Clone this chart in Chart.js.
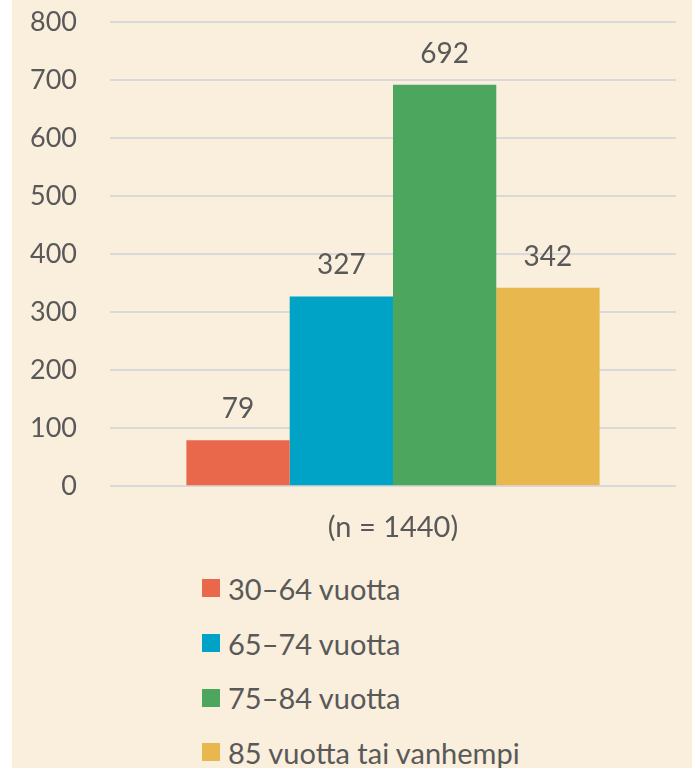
<!DOCTYPE html>
<html>
<head>
<meta charset="utf-8">
<script src="https://cdn.jsdelivr.net/npm/chart.js@4.4.1/dist/chart.umd.min.js"></script>
<style>
  body { margin: 0; background: #ffffff; width: 692px; height: 768px; overflow: hidden; }
  #panel { position: absolute; left: 12px; top: 0; width: 680px; height: 768px; background: #F9EFDC; }
  #wrap { position: absolute; left: 0; top: 0; width: 680px; height: 561px; }
  #legend { position: absolute; left: 190px; top: 561px; font-family: Lato, sans-serif; font-size: 29px; color: #595959; }
  .row { height: 54.7px; display: flex; align-items: center; }
  .box { width: 18px; height: 18px; margin-right: 8px; }
</style>
</head>
<body>
<div id="panel">
  <div id="wrap"><canvas id="bars"></canvas></div>
  <div id="legend"></div>
</div>
<script>
const categories = ['(n = 1440)'];
const seriesNames = ['30–64 vuotta', '65–74 vuotta', '75–84 vuotta', '85 vuotta tai vanhempi'];
const seriesValues = [79, 327, 692, 342];
const seriesColors = ['#E9674A', '#00A2C5', '#4CA65E', '#E8B84F'];
const yTicks = [0, 100, 200, 300, 400, 500, 600, 700, 800];

const textColor = '#595959';

const valueLabels = {
  id: 'valueLabels',
  afterDatasetsDraw(chart) {
    const c = chart.ctx;
    c.save();
    c.font = '28px Lato, sans-serif';
    c.fillStyle = textColor;
    c.textAlign = 'center';
    c.textBaseline = 'alphabetic';
    chart.data.datasets.forEach((ds, i) => {
      const meta = chart.getDatasetMeta(i);
      meta.data.forEach((bar, j) => {
        c.fillText(String(ds.data[j]), bar.x, bar.y - 22);
      });
    });
    c.restore();
  }
};

const ctx = document.getElementById('bars');
const bars = new Chart(ctx, {
  type: 'bar',
  data: {
    labels: categories,
    datasets: seriesNames.map((name, i) => ({
      label: name,
      data: [seriesValues[i]],
      backgroundColor: seriesColors[i],
      borderWidth: 0,
      barPercentage: 1,
      categoryPercentage: 0.73
    }))
  },
  options: {
    responsive: true,
    maintainAspectRatio: false,
    animation: false,
    layout: { padding: { left: 18, right: 16, top: 22, bottom: 0 } },
    plugins: {
      legend: { display: false },
      tooltip: { enabled: false }
    },
    scales: {
      x: {
        grid: { display: false },
        border: { display: false },
        ticks: { color: textColor, font: { family: 'Lato', size: 29 }, padding: 16 }
      },
      y: {
        min: 0,
        max: 800,
        afterBuildTicks: axis => { axis.ticks = yTicks.map(v => ({ value: v })); },
        grid: { color: '#D9D9D9', lineWidth: 2, drawTicks: true, tickLength: 33, tickColor: 'rgba(0,0,0,0)' },
        border: { display: false },
        ticks: { color: textColor, font: { family: 'Lato', size: 27 }, padding: 0 }
      }
    }
  },
  plugins: [valueLabels]
});

const legend = document.getElementById('legend');
seriesNames.forEach((name, i) => {
  const row = document.createElement('div');
  row.className = 'row';
  const box = document.createElement('span');
  box.className = 'box';
  box.style.background = seriesColors[i];
  const txt = document.createElement('span');
  txt.textContent = name;
  row.appendChild(box);
  row.appendChild(txt);
  legend.appendChild(row);
});
</script>
</body>
</html>
